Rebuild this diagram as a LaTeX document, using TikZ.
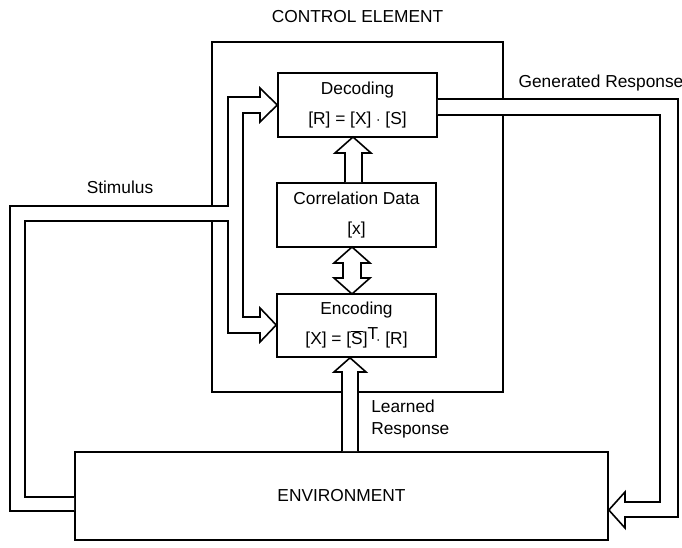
\documentclass[tikz,border=0pt]{standalone}
\usepackage{fontspec}
\setmainfont{Liberation Sans}
\usetikzlibrary{positioning, calc}
\tikzset{
  font=\fontsize{13}{17}\selectfont,
  %
  box/.style={
    draw=black, line width=1.2pt, fill=white, align=center, inner sep=0pt,
    minimum width=119.25pt, minimum height=48pt,
    font=\fontsize{13}{22.5}\selectfont,
  },
  frame/.style={draw=black, line width=1.2pt, inner sep=0pt},
  %
  fat/.style={draw=black, line width=1.2pt, fill=white, line join=miter},
  %
  lbl/.style={inner sep=0pt, align=left},
}

\begin{document}
\begin{tikzpicture}[x=0.75pt, y=-0.75pt]
  \useasboundingbox (0,0) rectangle (682,548);

  % --- control element ------------------------------------------------
  \node[frame, minimum width=218.25pt, minimum height=262.5pt] (ctrl) at (357.5,217) {};
  \node[lbl, above=13.5pt of ctrl] (ctrltitle) {CONTROL ELEMENT};

  \node[box] (dec)  at (357.5,105)   {Decoding\\{[R] = [X] $\cdot$ [S]}};
  \node[box] (corr) at (356.5,215)   {Correlation Data\\{[x]}};
  \node[box, minimum height=47.25pt] (enc) at (356.5,325.5)
    {Encoding\\{[X] = [$\overline{\mbox{S}}$]$^{\mbox{T}}\!\cdot$ [R]}};

  % --- environment ------------------------------------------------------
  \node[frame, minimum width=399.75pt, minimum height=66pt] (env) at (341.5,496)
    {ENVIRONMENT};

  % --- inner arrows -----------------------------------------------------
  \draw[fat] (corr.north -| 345,0) -- (345,153) -- (335,153) -- (353,137)
    -- (371,153) -- (362,153) -- (corr.north -| 362,0);

  \draw[fat] (352,247) -- (370,263) -- (361,263) -- (361,278) -- (370,278)
    -- (352,294) -- (334,278) -- (343,278) -- (343,263) -- (334,263) -- cycle;

  % --- stimulus ---------------------------------------------------------
  \draw[fat] (env.west |- 0,497) -- (25,497) -- (25,221) -- (228,221)
    -- (228,333) -- (260,333) -- (260,342) -- (enc.west |- 0,325)
    -- (260,308) -- (260,317) -- (243,317) -- (243,113) -- (260,113)
    -- (260,122) -- (dec.west |- 0,105) -- (260,88) -- (260,97)
    -- (228,97) -- (228,206) -- (10,206) -- (10,511) -- (env.west |- 0,511);
  \node[lbl] (stimlbl) at (120,187) {Stimulus};

  % --- generated response -----------------------------------------------
  \draw[fat] (dec.east |- 0,99) -- (678,99) -- (678,517) -- (625,517)
    -- (625,528) -- (env.east |- 0,510) -- (625,492) -- (625,502)
    -- (660,502) -- (660,115) -- (dec.east |- 0,115);
  \node[lbl] (genlbl) at (601,83) {Generated Response};

  % --- learned response -------------------------------------------------
  \draw[fat] (env.north -| 342,0) -- (342,372) -- (334,372) -- (enc.south -| 350,0)
    -- (366,372) -- (358,372) -- (env.north -| 358,0);
  \node[lbl, anchor=west] (learnlbl) at (371,419) {Learned\\Response};

\end{tikzpicture}
\end{document}
